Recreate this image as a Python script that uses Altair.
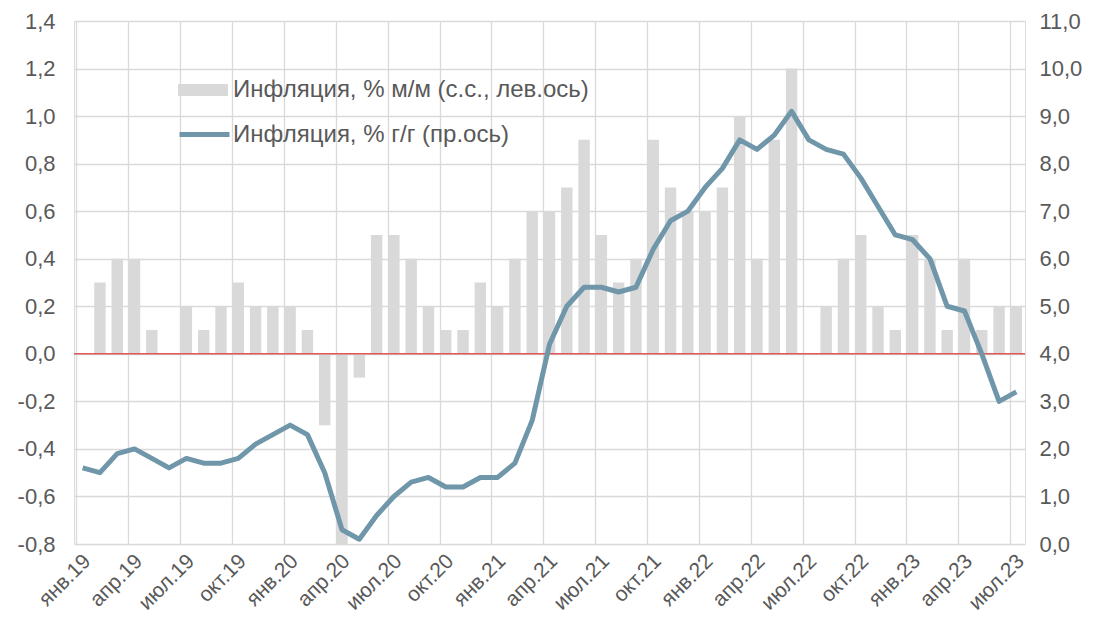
import altair as alt
import pandas as pd

# Months Jan 2019 .. Jul 2023
month_abbr = ["янв", "фев", "мар", "апр", "май", "июн", "июл", "авг", "сен", "окт", "ноя", "дек"]
months = []
for yr in ["19", "20", "21", "22", "23"]:
    for m in month_abbr:
        months.append(f"{m}.{yr}")
months = months[:55]

# Inflation, % m/m (s.a., left axis)
mom = [0.0, 0.3, 0.4, 0.4, 0.1, 0.0, 0.2, 0.1, 0.2, 0.3, 0.2, 0.2,
       0.2, 0.1, -0.3, -0.8, -0.1, 0.5, 0.5, 0.4, 0.2, 0.1, 0.1, 0.3,
       0.2, 0.4, 0.6, 0.6, 0.7, 0.9, 0.5, 0.3, 0.4, 0.9, 0.7, 0.6,
       0.6, 0.7, 1.0, 0.4, 0.9, 1.2, 0.0, 0.2, 0.4, 0.5, 0.2, 0.1,
       0.5, 0.4, 0.1, 0.4, 0.1, 0.2, 0.2]

# Inflation, % y/y (right axis)
yoy = [1.6, 1.5, 1.9, 2.0, 1.8, 1.6, 1.8, 1.7, 1.7, 1.8, 2.1, 2.3,
       2.5, 2.3, 1.5, 0.3, 0.1, 0.6, 1.0, 1.3, 1.4, 1.2, 1.2, 1.4,
       1.4, 1.7, 2.6, 4.2, 5.0, 5.4, 5.4, 5.3, 5.4, 6.2, 6.8, 7.0,
       7.5, 7.9, 8.5, 8.3, 8.6, 9.1, 8.5, 8.3, 8.2, 7.7, 7.1, 6.5,
       6.4, 6.0, 5.0, 4.9, 4.0, 3.0, 3.2]

s_bar = "Инфляция, % м/м (с.с., лев.ось)"
s_line = "Инфляция, % г/г (пр.ось)"

df = pd.DataFrame({"month": months, "mom": mom, "yoy": yoy,
                   "s1": s_bar, "s2": s_line})

label_months = months[::3]

FONT = "Liberation Sans"
TXT = "#595959"
GRID = "#d9d9d9"
W, H = 951, 523

x_enc = alt.X(
    "month:O", sort=months, title=None,
    scale=alt.Scale(paddingInner=0.34, paddingOuter=0.17),
    axis=alt.Axis(values=label_months, labelAngle=-45, bandPosition=0,
                  labelOffset=-3, ticks=False, domain=False,
                  grid=True, gridColor=GRID, gridWidth=1.3,
                  labelFont=FONT, labelFontSize=21, labelColor=TXT,
                  labelPadding=6),
)

bars = alt.Chart(df).mark_bar(color="#d9d9d9").encode(
    x=x_enc,
    y=alt.Y("mom:Q", title=None,
            scale=alt.Scale(domain=[-0.8, 1.4], nice=False, clamp=True),
            axis=alt.Axis(values=[round(-0.8 + 0.2 * i, 1) for i in range(12)],
                          labelExpr="replace(replace(format(datum.value, '.1f'), '.', ','), '\u2212', '-')",
                          grid=True, gridColor=GRID, gridWidth=1.3,
                          ticks=False, domain=False,
                          labelFont=FONT, labelFontSize=22, labelColor=TXT,
                          labelPadding=19)),
    fill=alt.Fill("s1:N", scale=alt.Scale(domain=[s_bar], range=["#d9d9d9"]),
                  legend=alt.Legend(orient="none", legendX=104, legendY=44,
                                    title=None, padding=0,
                                    symbolType="M-1,-0.24H1V0.24H-1Z",
                                    symbolSize=2500, symbolStrokeWidth=0,
                                    labelFont=FONT, labelFontSize=24,
                                    labelColor=TXT, labelOffset=5,
                                    labelLimit=700)),
)

zero = alt.Chart(pd.DataFrame({"z": [0.0]})).mark_rule(
    color="#e0585a", strokeWidth=1.6
).encode(y=alt.Y("z:Q", scale=alt.Scale(domain=[-0.8, 1.4], nice=False)))

left = alt.layer(bars, zero)

line = alt.Chart(df).mark_line(strokeWidth=5, strokeJoin="round", strokeCap="butt").encode(
    x=alt.X("month:O", sort=months),
    y=alt.Y("yoy:Q", title=None,
            scale=alt.Scale(domain=[0, 11], nice=False),
            axis=alt.Axis(orient="right", values=list(range(12)),
                          labelExpr="replace(format(datum.value, '.1f'), '.', ',')",
                          grid=False, ticks=False, domain=False,
                          labelFont=FONT, labelFontSize=22, labelColor=TXT,
                          labelPadding=14)),
    stroke=alt.Stroke("s2:N", scale=alt.Scale(domain=[s_line], range=["#7096aa"]),
                      legend=alt.Legend(orient="none", legendX=103, legendY=86,
                                        title=None, padding=0,
                                        symbolType="stroke", symbolSize=2500,
                                        symbolStrokeWidth=5,
                                        labelFont=FONT, labelFontSize=24,
                                        labelColor=TXT, labelOffset=1,
                                        labelLimit=700)),
)

chart = alt.layer(left, line).resolve_scale(
    y="independent", fill="independent", stroke="independent"
).resolve_legend(fill="independent", stroke="independent").properties(
    width=W, height=H,
    autosize=alt.AutoSizeParams(type="none"),
    padding={"left": 66, "top": 13, "right": 60, "bottom": 79},
).configure_view(stroke=GRID, strokeWidth=1.3).configure(background="white")

chart.save("out.html", embed_options={"renderer": "svg", "actions": False})
